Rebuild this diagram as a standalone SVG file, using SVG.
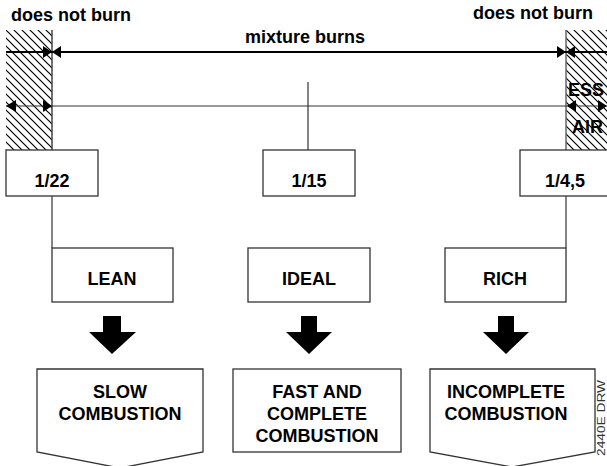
<svg xmlns="http://www.w3.org/2000/svg" width="607" height="466" viewBox="0 0 607 466">
<style>
text{font-family:"Liberation Sans",Arial,sans-serif;font-weight:bold;font-size:18px;fill:#000;text-anchor:middle}
.box{fill:#fff;stroke:#333;stroke-width:1.3}
.ln{stroke:#333;stroke-width:1.2;fill:none}
.thick{stroke:#000;stroke-width:2;fill:none}
.ah{fill:#000}
.big{fill:#000}
</style>
<defs>
<pattern id="hatch" patternUnits="userSpaceOnUse" width="8" height="8">
<path d="M-2,-2 L10,10 M-2,6 L2,10 M6,-2 L10,2" stroke="#000" stroke-width="1.2"/>
</pattern>
</defs>

<g id="zones">
<rect x="6" y="30" width="46" height="120" fill="url(#hatch)"/>
<line x1="52" y1="30" x2="52" y2="150" stroke="#444" stroke-width="1.5"/>
<rect x="566" y="30" width="41" height="120" fill="url(#hatch)"/>
<line x1="566" y1="30" x2="566" y2="150" stroke="#666" stroke-width="1.5"/>
<text x="71" y="21">does not burn</text>
<text x="533" y="19">does not burn</text>
<text x="305" y="43">mixture burns</text>
<text x="604" y="96" style="text-anchor:end">ESS</text>
<text x="603" y="133" style="text-anchor:end">AIR</text>
</g>

<g id="connectors">
<line class="thick" x1="6" y1="52" x2="607" y2="52"/>
<polygon class="ah" points="52,52 43,46 43,58"/>
<polygon class="ah" points="52,52 61,46 61,58"/>
<polygon class="ah" points="566,52 557,46 557,58"/>
<polygon class="ah" points="566,52 575,46 575,58"/>
<line class="ln" x1="6" y1="106" x2="607" y2="106"/>
<polygon class="ah" points="6,106 16,100 16,112"/>
<polygon class="ah" points="52,106 43,100 43,112"/>
<polygon class="ah" points="567,106 576,100 576,112"/>
<polygon class="ah" points="607,106 598,100 598,112"/>
<line class="ln" x1="308" y1="82" x2="308" y2="150"/>
<line class="ln" x1="52" y1="196" x2="52" y2="248"/>
<line class="ln" x1="566" y1="196" x2="566" y2="248"/>
<polygon class="big" points="103,316 121,316 121,332 136,332 112,354 89,332 103,332"/>
<polygon class="big" points="301,316 317,316 317,332 332,332 309,354 286,332 301,332"/>
<polygon class="big" points="498,316 514,316 514,332 529,332 506,354 483,332 498,332"/>
</g>

<g id="ratio-lean">
<rect class="box" x="6" y="150" width="92" height="46"/>
<text x="52" y="187">1/22</text>
</g>
<g id="ratio-ideal">
<rect class="box" x="263" y="150" width="92" height="46"/>
<text x="309" y="187">1/15</text>
</g>
<g id="ratio-rich">
<rect class="box" x="520" y="150" width="95" height="46"/>
<text x="565" y="187">1/4,5</text>
</g>

<g id="lean">
<rect class="box" x="52" y="248" width="121" height="54"/>
<text x="112" y="285">LEAN</text>
</g>
<g id="ideal">
<rect class="box" x="248" y="248" width="122" height="54"/>
<text x="309" y="285">IDEAL</text>
</g>
<g id="rich">
<rect class="box" x="445" y="248" width="121" height="54"/>
<text x="505" y="285">RICH</text>
</g>

<g id="slow">
<polygon class="box" points="37,369 203,369 203,452 120,468 37,452"/>
<text x="120" y="398">SLOW</text>
<text x="120" y="420">COMBUSTION</text>
</g>
<g id="fast">
<rect class="box" x="233" y="369" width="168" height="83"/>
<text x="317" y="398">FAST AND</text>
<text x="317" y="420">COMPLETE</text>
<text x="317" y="442">COMBUSTION</text>
</g>
<g id="incomplete">
<polygon class="box" points="430,369 595,369 595,452 512,467 430,452"/>
<text x="506" y="398">INCOMPLETE</text>
<text x="506" y="420">COMBUSTION</text>
</g>

<text x="0" y="0" transform="translate(605,418) rotate(-90)" style="font-size:10px;font-weight:normal;fill:#333" textLength="76" lengthAdjust="spacingAndGlyphs">2440E DRW</text>
</svg>
